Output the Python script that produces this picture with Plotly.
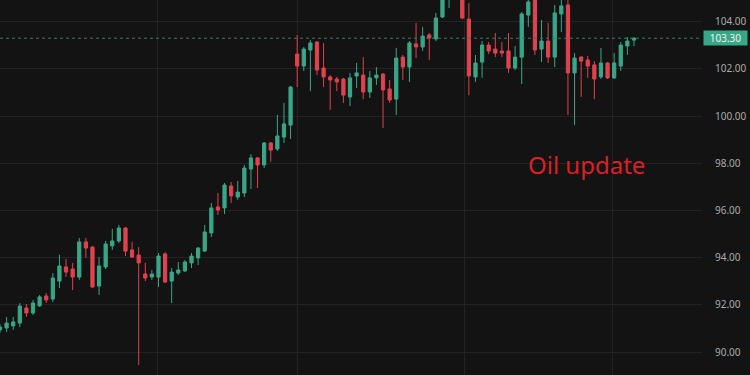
import plotly.graph_objects as go

# OHLC values (index = bar number)
opens = [90.94, 91.02, 91.11, 91.23, 91.87, 91.66, 91.96, 92.38, 92.25, 93.01,
         93.61, 93.52, 93.18, 94.67, 94.45, 92.80, 93.61, 94.50, 94.71, 95.26,
         94.33, 94.11, 93.31, 93.18, 93.18, 94.16, 93.01, 93.35, 93.44, 93.78,
         93.99, 94.28, 95.05, 96.15, 96.11, 97.04, 96.57, 96.74, 97.76, 98.23,
         97.93, 98.86, 98.61, 99.11, 99.62, 102.63, 102.12, 102.80, 103.14, 102.04,
         101.66, 101.57, 101.57, 100.81, 101.70, 101.74, 101.02, 101.62, 101.78, 101.15,
         100.72, 102.50, 102.08, 103.06, 102.93, 103.44, 103.27, 104.20, 105.20, 105.60,
         105.30, 104.11, 101.66, 102.29, 103.01, 102.84, 102.76, 102.76, 102.04, 102.50,
         104.28, 105.00, 102.84, 103.18, 102.50, 104.33, 104.71, 101.83, 102.50, 102.38,
         102.17, 101.66, 102.25, 101.62, 102.12, 102.97, 103.22]
highs = [91.19, 91.49, 91.49, 92.08, 92.04, 92.21, 92.42, 92.50, 93.35, 94.12,
         93.95, 93.78, 94.84, 94.84, 94.50, 94.03, 94.71, 95.22, 95.39, 95.30,
         94.67, 94.45, 93.78, 93.48, 94.20, 94.24, 93.56, 93.82, 93.90, 94.20,
         94.45, 95.39, 96.32, 96.74, 97.17, 97.21, 97.25, 97.93, 98.39, 98.27,
         98.90, 98.90, 100.05, 100.56, 101.28, 103.44, 102.93, 103.22, 103.18, 103.10,
         101.74, 101.66, 101.62, 101.83, 102.25, 102.50, 101.91, 102.08, 101.83, 101.53,
         102.89, 102.59, 103.18, 103.95, 103.78, 103.52, 104.37, 105.30, 105.80, 105.90,
         105.50, 104.79, 102.59, 103.18, 103.14, 103.52, 103.14, 103.52, 102.97, 104.41,
         105.00, 105.20, 104.07, 103.95, 104.71, 105.00, 105.00, 102.67, 102.55, 102.55,
         102.33, 102.89, 102.29, 102.67, 103.14, 103.35, 103.35]
lows = [90.81, 90.85, 90.94, 91.06, 91.49, 91.57, 91.91, 92.08, 92.12, 92.72,
        93.18, 92.63, 93.06, 93.99, 92.72, 92.42, 93.52, 94.33, 94.62, 94.07,
        93.99, 89.45, 93.01, 93.06, 92.76, 92.93, 92.08, 93.27, 93.39, 93.56,
        93.69, 94.24, 94.88, 95.81, 95.85, 96.32, 96.45, 96.57, 96.91, 96.95,
        97.80, 98.06, 98.52, 98.86, 99.03, 101.23, 101.91, 101.06, 101.74, 101.23,
        100.26, 101.06, 100.56, 100.43, 101.19, 100.72, 100.77, 101.32, 99.50, 100.56,
        100.05, 101.53, 101.45, 102.46, 102.76, 102.38, 103.18, 104.15, 104.58, 105.00,
        104.10, 100.89, 101.45, 101.62, 102.63, 102.50, 102.50, 101.83, 101.95, 101.36,
        103.78, 102.59, 102.29, 102.25, 102.08, 103.56, 100.05, 99.62, 100.81, 101.62,
        100.72, 101.57, 101.57, 101.57, 101.91, 102.59, 102.97]
closes = [91.06, 91.23, 91.28, 91.95, 91.66, 92.08, 92.34, 92.21, 93.14, 93.65,
          93.39, 93.18, 94.67, 94.41, 92.76, 93.65, 94.58, 94.71, 95.26, 94.28,
          94.03, 93.78, 93.14, 93.31, 94.07, 92.97, 93.39, 93.48, 93.82, 94.07,
          94.41, 95.09, 96.11, 96.02, 97.08, 96.62, 96.78, 97.80, 98.23, 97.93,
          98.86, 98.56, 99.16, 99.67, 101.23, 102.12, 102.84, 103.10, 101.95, 101.66,
          101.53, 101.45, 100.89, 101.62, 101.83, 101.02, 101.62, 101.74, 101.11, 100.68,
          102.46, 102.08, 103.10, 102.93, 103.39, 103.31, 104.16, 105.10, 105.60, 105.30,
          104.16, 101.70, 102.25, 103.01, 102.76, 102.67, 102.67, 102.04, 102.50, 104.33,
          104.84, 102.80, 103.18, 102.50, 104.37, 104.67, 101.83, 102.46, 102.33, 102.12,
          101.57, 102.25, 101.62, 102.25, 103.01, 103.18, 103.30]
bars = list(range(len(closes)))

y_ticks = [90, 92, 94, 96, 98, 100, 102, 104]
y_tick_labels = ["90.00", "92.00", "94.00", "96.00", "98.00", "100.00", "102.00", "104.00"]
x_grid = [23.8, 45.0, 70.4, 92.8]
last_price = 103.30
last_label = "103.30"
note_text = "Oil update"

UP = "#3aa688"
DOWN = "#e0424e"
BG = "#131313"
GRID = "#232323"

fig = go.Figure(go.Candlestick(
    x=bars, open=opens, high=highs, low=lows, close=closes,
    increasing=dict(line=dict(color=UP, width=1), fillcolor=UP),
    decreasing=dict(line=dict(color=DOWN, width=1), fillcolor=DOWN),
    whiskerwidth=0, showlegend=False, hoverinfo="skip",
))

fig.add_shape(type="line", xref="paper", x0=0, x1=1, yref="y",
              y0=last_price, y1=last_price,
              line=dict(color="#2f7f6a", width=1, dash="dot"))

fig.add_annotation(xref="paper", x=1.0, xanchor="left", yref="y", y=last_price,
                   text=last_label, showarrow=False,
                   font=dict(family="Noto Sans", size=10, color="#e8f5f0"),
                   bgcolor=UP, width=43, height=14, borderpad=0, xshift=1)

fig.add_annotation(xref="x", x=88.75, yref="y", y=97.95, text=note_text,
                   showarrow=False,
                   font=dict(family="Noto Sans", size=24, color="#dc1f27"))

fig.update_layout(
    width=750, height=375,
    margin=dict(l=0, r=48, t=0, b=0),
    paper_bgcolor=BG, plot_bgcolor=BG,
    xaxis=dict(range=[0, 106.3], rangeslider=dict(visible=False),
               tickvals=x_grid, showticklabels=False, ticks="",
               showgrid=True, gridcolor=GRID, gridwidth=1,
               zeroline=False, showline=False, fixedrange=True),
    yaxis=dict(side="right", range=[89.03, 104.92],
               tickvals=y_ticks, ticktext=y_tick_labels,
               showgrid=True, gridcolor=GRID, gridwidth=1,
               ticks="outside", ticklen=10, tickcolor=BG,
               tickfont=dict(family="Noto Sans", size=10, color="#aaaaaa"),
               zeroline=False, showline=False),
)

fig.write_html("out.html")
